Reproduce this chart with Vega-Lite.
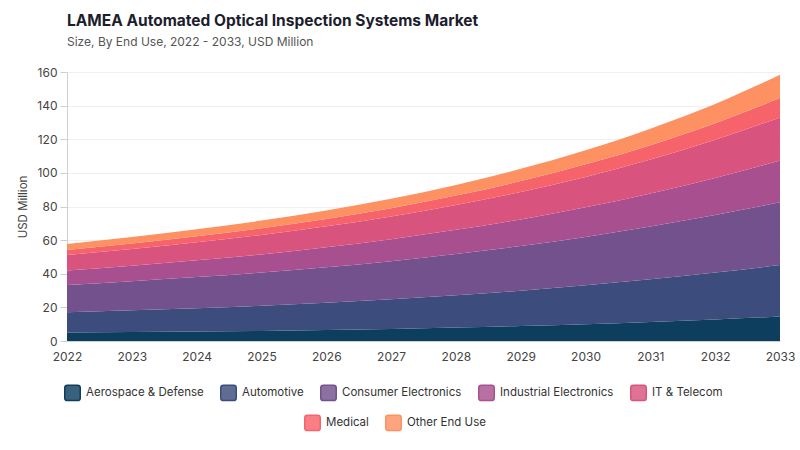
{
  "$schema": "https://vega.github.io/schema/vega-lite/v6.json",
  "width": 713,
  "height": 269,
  "autosize": "none",
  "padding": {"left": 67, "top": 72, "right": 20, "bottom": 109},
  "background": "white",
  "title": {
    "text": "LAMEA Automated Optical Inspection Systems Market",
    "subtitle": "Size, By End Use, 2022 - 2033, USD Million",
    "anchor": "start",
    "frame": "group",
    "offset": 18,
    "font": "Inter",
    "fontSize": 15.5,
    "fontWeight": "bold",
    "color": "#1c1d2e",
    "subtitleFont": "Inter",
    "subtitleFontSize": 12,
    "subtitleColor": "#555555",
    "subtitlePadding": 8
  },
  "data": {
    "values": [
      {"year": "2022", "end_use": "Aerospace & Defense", "value": 5.0},
      {"year": "2022", "end_use": "Automotive", "value": 12.1},
      {"year": "2022", "end_use": "Consumer Electronics", "value": 16.2},
      {"year": "2022", "end_use": "Industrial Electronics", "value": 8.6},
      {"year": "2022", "end_use": "IT & Telecom", "value": 9.3},
      {"year": "2022", "end_use": "Medical", "value": 3.0},
      {"year": "2022", "end_use": "Other End Use", "value": 3.5},
      {"year": "2023", "end_use": "Aerospace & Defense", "value": 5.3},
      {"year": "2023", "end_use": "Automotive", "value": 13.0},
      {"year": "2023", "end_use": "Consumer Electronics", "value": 17.3},
      {"year": "2023", "end_use": "Industrial Electronics", "value": 9.2},
      {"year": "2023", "end_use": "IT & Telecom", "value": 9.9},
      {"year": "2023", "end_use": "Medical", "value": 3.3},
      {"year": "2023", "end_use": "Other End Use", "value": 3.8},
      {"year": "2024", "end_use": "Aerospace & Defense", "value": 5.6},
      {"year": "2024", "end_use": "Automotive", "value": 13.9},
      {"year": "2024", "end_use": "Consumer Electronics", "value": 18.5},
      {"year": "2024", "end_use": "Industrial Electronics", "value": 10.0},
      {"year": "2024", "end_use": "IT & Telecom", "value": 10.7},
      {"year": "2024", "end_use": "Medical", "value": 3.6},
      {"year": "2024", "end_use": "Other End Use", "value": 4.1},
      {"year": "2025", "end_use": "Aerospace & Defense", "value": 6.0},
      {"year": "2025", "end_use": "Automotive", "value": 15.0},
      {"year": "2025", "end_use": "Consumer Electronics", "value": 19.7},
      {"year": "2025", "end_use": "Industrial Electronics", "value": 10.8},
      {"year": "2025", "end_use": "IT & Telecom", "value": 11.6},
      {"year": "2025", "end_use": "Medical", "value": 4.0},
      {"year": "2025", "end_use": "Other End Use", "value": 4.5},
      {"year": "2026", "end_use": "Aerospace & Defense", "value": 6.6},
      {"year": "2026", "end_use": "Automotive", "value": 16.2},
      {"year": "2026", "end_use": "Consumer Electronics", "value": 21.1},
      {"year": "2026", "end_use": "Industrial Electronics", "value": 11.8},
      {"year": "2026", "end_use": "IT & Telecom", "value": 12.5},
      {"year": "2026", "end_use": "Medical", "value": 4.4},
      {"year": "2026", "end_use": "Other End Use", "value": 5.0},
      {"year": "2027", "end_use": "Aerospace & Defense", "value": 7.2},
      {"year": "2027", "end_use": "Automotive", "value": 17.6},
      {"year": "2027", "end_use": "Consumer Electronics", "value": 22.7},
      {"year": "2027", "end_use": "Industrial Electronics", "value": 13.0},
      {"year": "2027", "end_use": "IT & Telecom", "value": 13.6},
      {"year": "2027", "end_use": "Medical", "value": 4.9},
      {"year": "2027", "end_use": "Other End Use", "value": 5.6},
      {"year": "2028", "end_use": "Aerospace & Defense", "value": 8.0},
      {"year": "2028", "end_use": "Automotive", "value": 19.2},
      {"year": "2028", "end_use": "Consumer Electronics", "value": 24.6},
      {"year": "2028", "end_use": "Industrial Electronics", "value": 14.3},
      {"year": "2028", "end_use": "IT & Telecom", "value": 14.8},
      {"year": "2028", "end_use": "Medical", "value": 5.6},
      {"year": "2028", "end_use": "Other End Use", "value": 6.3},
      {"year": "2029", "end_use": "Aerospace & Defense", "value": 8.9},
      {"year": "2029", "end_use": "Automotive", "value": 21.0},
      {"year": "2029", "end_use": "Consumer Electronics", "value": 26.6},
      {"year": "2029", "end_use": "Industrial Electronics", "value": 15.8},
      {"year": "2029", "end_use": "IT & Telecom", "value": 16.3},
      {"year": "2029", "end_use": "Medical", "value": 6.5},
      {"year": "2029", "end_use": "Other End Use", "value": 7.3},
      {"year": "2030", "end_use": "Aerospace & Defense", "value": 10.0},
      {"year": "2030", "end_use": "Automotive", "value": 23.1},
      {"year": "2030", "end_use": "Consumer Electronics", "value": 28.8},
      {"year": "2030", "end_use": "Industrial Electronics", "value": 17.6},
      {"year": "2030", "end_use": "IT & Telecom", "value": 18.1},
      {"year": "2030", "end_use": "Medical", "value": 7.5},
      {"year": "2030", "end_use": "Other End Use", "value": 8.4},
      {"year": "2031", "end_use": "Aerospace & Defense", "value": 11.3},
      {"year": "2031", "end_use": "Automotive", "value": 25.4},
      {"year": "2031", "end_use": "Consumer Electronics", "value": 31.4},
      {"year": "2031", "end_use": "Industrial Electronics", "value": 19.7},
      {"year": "2031", "end_use": "IT & Telecom", "value": 20.1},
      {"year": "2031", "end_use": "Medical", "value": 8.6},
      {"year": "2031", "end_use": "Other End Use", "value": 9.8},
      {"year": "2032", "end_use": "Aerospace & Defense", "value": 12.8},
      {"year": "2032", "end_use": "Automotive", "value": 27.9},
      {"year": "2032", "end_use": "Consumer Electronics", "value": 34.2},
      {"year": "2032", "end_use": "Industrial Electronics", "value": 22.1},
      {"year": "2032", "end_use": "IT & Telecom", "value": 22.7},
      {"year": "2032", "end_use": "Medical", "value": 9.8},
      {"year": "2032", "end_use": "Other End Use", "value": 11.5},
      {"year": "2033", "end_use": "Aerospace & Defense", "value": 14.5},
      {"year": "2033", "end_use": "Automotive", "value": 30.7},
      {"year": "2033", "end_use": "Consumer Electronics", "value": 37.3},
      {"year": "2033", "end_use": "Industrial Electronics", "value": 24.8},
      {"year": "2033", "end_use": "IT & Telecom", "value": 25.7},
      {"year": "2033", "end_use": "Medical", "value": 11.5},
      {"year": "2033", "end_use": "Other End Use", "value": 13.8}
    ]
  },
  "transform": [
    {
      "calculate": "indexof(['Aerospace & Defense', 'Automotive', 'Consumer Electronics', 'Industrial Electronics', 'IT & Telecom', 'Medical', 'Other End Use'], datum.end_use)",
      "as": "stack_rank"
    }
  ],
  "encoding": {
    "x": {
      "field": "year",
      "type": "ordinal",
      "scale": {"type": "point", "padding": 0},
      "axis": {
        "title": null,
        "labelAngle": 0,
        "ticks": false,
        "labelPadding": 10,
        "domainColor": "#d0d0d0",
        "grid": false
      }
    }
  },
  "layer": [
    {
      "mark": {"type": "area", "interpolate": "monotone", "opacity": 1},
      "encoding": {
        "y": {
          "field": "value",
          "type": "quantitative",
          "stack": "zero",
          "scale": {"domain": [0, 160], "nice": false},
          "axis": {
            "title": "USD Million",
            "values": [0, 20, 40, 60, 80, 100, 120, 140, 160],
            "tickCount": 12,
            "labelOverlap": false,
            "tickSize": 7,
            "tickColor": "#cfcfcf",
            "domainColor": "#cfcfcf",
            "gridColor": "#efefef",
            "labelPadding": 3,
            "titlePadding": 8
          }
        },
        "color": {
          "field": "end_use",
          "type": "nominal",
          "scale": {
            "domain": ["Aerospace & Defense", "Automotive", "Consumer Electronics", "Industrial Electronics", "IT & Telecom", "Medical", "Other End Use"],
            "range": ["#0d3e5e", "#3c4c7d", "#72518d", "#a8508f", "#d8547e", "#f6636b", "#fd9161"]
          },
          "legend": {
            "title": null,
            "orient": "none",
            "direction": "horizontal",
            "legendX": -3,
            "legendY": 312,
            "values": ["Aerospace & Defense", "Automotive", "Consumer Electronics", "Industrial Electronics", "IT & Telecom"],
            "encode": {
              "symbols": {
                "update": {
                  "stroke": {"scale": "color", "field": "value"},
                  "strokeWidth": {"value": 1.5},
                  "fillOpacity": {"value": 0.82},
                  "opacity": {"value": 1}
                }
              }
            }
          }
        },
        "order": {"field": "stack_rank", "type": "quantitative"}
      }
    },
    {
      "transform": [{"filter": "datum.stack_rank >= 5"}],
      "mark": {"type": "point", "filled": true, "opacity": 0},
      "encoding": {
        "fill": {
          "field": "end_use",
          "type": "nominal",
          "scale": {
            "domain": ["Medical", "Other End Use"],
            "range": ["#f6636b", "#fd9161"]
          },
          "legend": {
            "title": null,
            "orient": "none",
            "direction": "horizontal",
            "legendX": 237,
            "legendY": 342,
            "encode": {
              "symbols": {
                "update": {
                  "stroke": {"scale": "fill", "field": "value"},
                  "strokeWidth": {"value": 1.5},
                  "fillOpacity": {"value": 0.82},
                  "opacity": {"value": 1}
                }
              }
            }
          }
        }
      }
    }
  ],
  "config": {
    "font": "Inter",
    "view": {"stroke": null},
    "axis": {
      "labelFont": "Inter",
      "labelFontSize": 12,
      "labelColor": "#444444",
      "titleFont": "Inter",
      "titleFontSize": 11.5,
      "titleFontWeight": "normal",
      "titleColor": "#444444"
    },
    "legend": {
      "labelFont": "Inter",
      "labelFontSize": 11.5,
      "labelColor": "#333333",
      "symbolType": "M-0.65,-1H0.65Q1,-1 1,-0.65V0.65Q1,1 0.65,1H-0.65Q-1,1 -1,0.65V-0.65Q-1,-1 -0.65,-1Z",
      "symbolSize": 240,
      "symbolOpacity": 1,
      "symbolOffset": 0,
      "labelOffset": 5,
      "columnPadding": 13
    }
  }
}
